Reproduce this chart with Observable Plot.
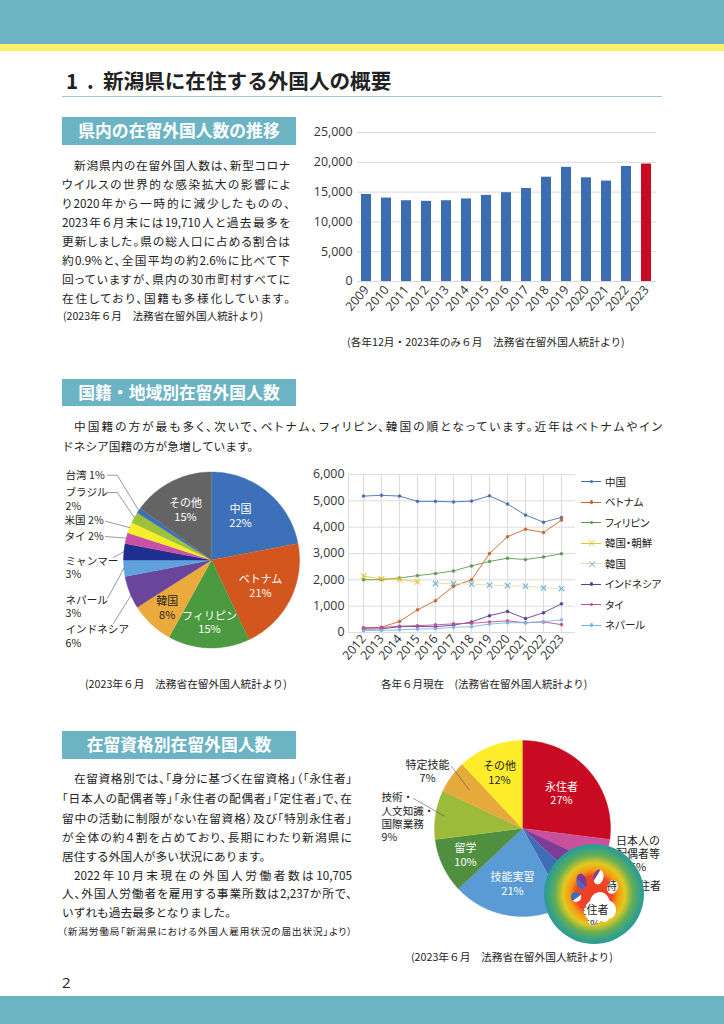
<!DOCTYPE html>
<html lang="ja"><head><meta charset="utf-8">
<script src="https://cdn.jsdelivr.net/npm/d3@7"></script>
<script src="https://cdn.jsdelivr.net/npm/@observablehq/plot@0.6"></script>
<style>
html,body{margin:0;padding:0;background:#fff}
#page{position:relative;width:724px;height:1024px;overflow:hidden;background:#fff;font-family:"Noto Sans CJK JP","Noto Sans",sans-serif;color:#222}
#page>div{position:absolute}
.ln{white-space:nowrap;text-align:justify;text-align-last:justify}
.tight{font-feature-settings:"palt"}
.plain{white-space:nowrap}
.hd{background:#6cb4c4;color:#fff;font-weight:700;text-align:center;font-size:16.8px;left:62px;width:234px;height:27.5px;line-height:27px}
svg{overflow:visible}
</style></head><body><div id="page"></div>
<script>
// ---------- data ----------
const barYears=["2009","2010","2011","2012","2013","2014","2015","2016","2017","2018","2019","2020","2021","2022","2023"];
const barValues=[14600,14000,13550,13450,13550,13850,14450,14900,15600,17500,19150,17400,16850,19300,19710];

const lineYears=["2012","2013","2014","2015","2016","2017","2018","2019","2020","2021","2022","2023"];
const china=[5180,5210,5180,4980,4980,4960,4990,5190,4880,4460,4190,4370];
const vietnam=[170,200,420,860,1210,1760,2000,3000,3640,3920,3800,4270];
const philippines=[2000,2010,2070,2160,2240,2340,2530,2700,2820,2770,2870,2990];
const koreaBoth=[2140,2040,2020,1920,null,null,null,null,null,null,null,null];
const korea=[null,null,null,null,1860,1860,1840,1800,1780,1760,1690,1670];
const indonesia=[130,140,220,230,220,280,400,640,800,530,750,1090];
const thailand=[180,190,240,260,290,330,350,400,440,370,400,300];
const nepal=[70,80,100,130,140,200,220,320,370,370,410,480];

const natNames=["中国","ベトナム","フィリピン","韓国","インドネシア","ネパール","ミャンマー","タイ","米国","ブラジル","台湾","その他"];
const natShares=[22,21,15,8,6,3,3,2,2,2,1,15];
const natColors=["#3c70b8","#d2561d","#4c9a40","#ebab3c","#6a459c","#5ea1dc","#1f2f8f","#c94fa8","#f7ee2a","#9cc23a","#3f6fb5","#646464"];

const visaNames=["永住者","日本人の配偶者等","定住者","特別永住者","技能実習","留学","技術・人文知識・国際業務","特定技能","その他"];
const visaShares=[27,5,5,5,21,10,9,6,12];
const visaColors=["#c80a22","#c9509b","#7d3c98","#3f6db5","#5b9bd5","#4f8f3f","#9dbb3a","#e5a93c","#fcec2a"];

const FONT='"Noto Sans CJK JP","Noto Sans",sans-serif';
const NUMFONT='"Open Sans","Noto Sans CJK JP",sans-serif';
const page=document.getElementById("page");
const comma=d3.format(",");

// ---------- page furniture ----------
function box(l,t,w,h,c){const d=document.createElement("div");d.style.cssText=`left:${l}px;top:${t}px;width:${w}px;height:${h}px;background:${c}`;page.append(d);return d}
box(0,0,724,44,"#6cb4c4");box(0,44,724,7,"#fdf06a");box(0,996,724,28,"#6cb4c4");box(62,96,600,1,"#9cc8dc");
function txt(s,l,cy,w,size,cls,extra=""){const d=document.createElement("div");d.className=cls;d.textContent=s;const lh=size*1.5;
 d.style.cssText=`left:${l}px;top:${cy-lh/2}px;${w?`width:${w}px;`:""}font-size:${size}px;line-height:${lh}px;${extra}`;page.append(d);return d}
txt("1",66,80,0,20.5,"plain","font-weight:700");txt(".",87,80,0,20.5,"plain","font-weight:700");
txt("新潟県に在住する外国人の概要",103,80,0,20.6,"plain","font-weight:700");
function hd(s,t){const d=document.createElement("div");d.className="hd";d.style.top=t+"px";d.textContent=s;page.append(d)}
hd("県内の在留外国人数の推移",117);hd("国籍・地域別在留外国人数",378.5);hd("在留資格別在留外国人数",731);

const body1=["新潟県内の在留外国人数は、新型コロナ","ウイルスの世界的な感染拡大の影響によ","り2020年から一時的に減少したものの、","2023年６月末には19,710人と過去最多を","更新しました。県の総人口に占める割合は","約0.9%と、全国平均の約2.6%に比べて下","回っていますが、県内の30市町村すべてに","在住しており、国籍も多様化しています。"];
const body1Y=[165,184,203,222,241,260,279,298];
body1.forEach((s,i)=>txt(s,i==0?74:62,body1Y[i],i==0?216:228,11.7,"ln tight"));
txt("(2023年６月　法務省在留外国人統計より)",63,316,0,10.6,"plain");

const body2=["中国籍の方が最も多く、次いで、ベトナム、フィリピン、韓国の順となっています。近年はベトナムやイン"];
txt(body2[0],74,426,588,11.7,"ln tight");
txt("ドネシア国籍の方が急増しています。",62,446,0,11.7,"plain");

const body3=["在留資格別では、「身分に基づく在留資格」（「永住者」","「日本人の配偶者等」「永住者の配偶者」「定住者」で、在","留中の活動に制限がない在留資格）及び「特別永住者」","が全体の約４割を占めており、長期にわたり新潟県に"];
const body3Y=[778,798,818,837];
body3.forEach((s,i)=>txt(s,i==0?74:62,body3Y[i],i==0?278:290,11.7,"ln tight"));
txt("居住する外国人が多い状況にあります。",62,856,0,11.7,"plain");
txt("2022年10月末現在の外国人労働者数は10,705",74,874.5,278,11.7,"ln tight");
txt("人、外国人労働者を雇用する事業所数は2,237か所で、",62,893,290,11.7,"ln tight");
txt("いずれも過去最多となりました。",62,912,0,11.7,"plain");
txt("（新潟労働局「新潟県における外国人雇用状況の届出状況」より）",62,931,290,9.6,"ln tight");
txt("2",62,982,0,15,"plain","font-family:"+NUMFONT);

txt("(各年12月・2023年のみ６月　法務省在留外国人統計より)",347,342,0,10.7,"plain");
txt("(2023年６月　法務省在留外国人統計より)",85,684,0,10.7,"plain");
txt("各年６月現在　(法務省在留外国人統計より)",381,684,0,10.5,"plain");
txt("(2023年６月　法務省在留外国人統計より)",411,957,0,10.7,"plain");

function put(svg,l,t){svg.style.position="absolute";svg.style.left=l+"px";svg.style.top=t+"px";svg.style.maxWidth="none";svg.style.background="transparent";page.append(svg)}

// ---------- bar chart ----------
const barRows=barYears.map((year,i)=>({year,value:barValues[i],kind:year==="2023"?"latest":"past"}));
put(Plot.plot({width:370,height:240,marginLeft:57,marginRight:14,marginTop:17,marginBottom:74,
 style:{fontFamily:NUMFONT,fontSize:"12.4px",color:"#333",background:"transparent"},
 x:{domain:barYears,paddingInner:0.49,paddingOuter:0.1,label:null},
 y:{domain:[0,25000],label:null},
 color:{domain:["past","latest"],range:["#3c6db3","#c80a22"]},
 marks:[
  Plot.gridY([0,5000,10000,15000,20000,25000],{stroke:"#d9d9d9",strokeOpacity:1}),
  Plot.barY(barRows,{x:"year",y:"value",fill:"kind"}),
  Plot.axisY({ticks:[0,5000,10000,15000,20000,25000],tickFormat:comma,tickSize:0,tickPadding:5,label:null,fontSize:12.4}),
  Plot.axisX({tickRotate:-50,tickSize:0,tickPadding:6,label:null,fontSize:12.4})
 ]}),300,115);

// ---------- line chart ----------
const seriesList=[["中国",china,"#4472b0"],["ベトナム",vietnam,"#c8642e"],["フィリピン",philippines,"#5f9a4f"],["韓国・朝鮮",koreaBoth,"#e6c43a"],["韓国",korea,"#e9dfa6"],["インドネシア",indonesia,"#5b3f95"],["タイ",thailand,"#c0508f"],["ネパール",nepal,"#7db6e3"]];
const markerColor={"韓国":"#6fb2d8"};
const long=seriesList.flatMap(([name,vals])=>vals.map((v,i)=>({name,year:lineYears[i],v})).filter(d=>d.v!==null));
const seriesNames=seriesList.map(s=>s[0]),seriesColors=seriesList.map(s=>s[2]);
const crossNames=["韓国・朝鮮","韓国"];
const crosses=long.filter(d=>crossNames.includes(d.name)),round=long.filter(d=>!crossNames.includes(d.name));
put(Plot.plot({width:270,height:200,marginLeft:38,marginRight:5,marginTop:14,marginBottom:28,
 style:{fontFamily:NUMFONT,fontSize:"12.4px",color:"#333",background:"transparent"},
 x:{type:"point",domain:lineYears,padding:0.5,label:null},
 y:{domain:[0,6000],label:null},
 color:{domain:seriesNames,range:seriesColors},
 marks:[
  Plot.gridX(lineYears,{stroke:"#dcdcdc",strokeOpacity:1}),
  Plot.gridY([0,1000,2000,3000,4000,5000,6000],{stroke:"#dcdcdc",strokeOpacity:1}),
  Plot.frame({anchor:"left",stroke:"#dcdcdc"}),
  Plot.line(long,{x:"year",y:"v",z:"name",stroke:"name",strokeWidth:0.9}),
  Plot.dot(round,{x:"year",y:"v",r:1.5,fill:"name",stroke:"name",strokeWidth:0.5}),
  Plot.dot(crosses,{x:"year",y:"v",r:2.6,symbol:"times",stroke:d=>markerColor[d.name]||"#e6c43a",strokeWidth:1.1}),
  Plot.axisY({ticks:[0,1000,2000,3000,4000,5000,6000],tickFormat:comma,tickSize:0,tickPadding:4,label:null,fontSize:12.4}),
  Plot.axisX({tickRotate:-50,tickSize:0,tickPadding:4,label:null,fontSize:12.4})
 ]}),310,460);

// legend for the line chart
const legendRows=[481.5,502,522.5,543,563.5,584,604.5,625];
seriesList.forEach(([name,_,c],i)=>{
 const y=legendRows[i];
 const l=document.createElement("div");l.style.cssText=`left:581px;top:${y-.4}px;width:20px;height:0;border-top:.9px solid ${c}`;page.append(l);
 const mark=document.createElement("div");const mc=markerColor[name]||c;
 mark.textContent=crossNames.includes(name)?"×":"";
 mark.style.cssText=crossNames.includes(name)?`left:587px;top:${y-7}px;width:8px;text-align:center;font-size:10px;line-height:14px;color:${mc}`:`left:589.5px;top:${y-2}px;width:3.5px;height:3.5px;border-radius:50%;background:${c}`;
 page.append(mark);
 txt(name,605,y,0,10.5,"plain tight");
});

// ---------- pies: slices are polygons built from the shares and drawn on pixel scales ----------
function slices(names,shares,cx,cy,r){
 const total=d3.sum(shares);let acc=0;const pts=[],mids={};
 names.forEach((name,i)=>{
  const a0=acc/total*2*Math.PI;acc+=shares[i];const a1=acc/total*2*Math.PI;
  mids[name]=(a0+a1)/2;
  pts.push({name,px:cx,py:cy});
  const n=Math.max(2,Math.ceil((a1-a0)/0.02));
  for(let k=0;k<=n;k++){const a=a0+(a1-a0)*k/n;pts.push({name,px:cx+r*Math.sin(a),py:cy-r*Math.cos(a)})}
 });
 const rim=(name,f=1)=>({px:cx+r*f*Math.sin(mids[name]),py:cy-r*f*Math.cos(mids[name])});
 return {pts,rim};
}
function leaders(list,rim){return list.flatMap(([name,anchors,f],id)=>[...anchors.map(([px,py])=>({id,px,py})),{id,...rim(name,f)}])}
function piePlot(L,T,W,H,names,colors,pts,leaderRows,labels){
 const rows=labels.flatMap(d=>{const ls=d.t.split("\n");return ls.map((t,i)=>({...d,t,py:d.py+(i-(ls.length-1)/2)*13.3}))});
 const mk=(list,fill,anchor,size)=>Plot.text(list,{x:"px",y:"py",text:"t",fill,textAnchor:anchor,fontSize:size});
 return Plot.plot({width:W,height:H,margin:0,
  style:{fontFamily:FONT,background:"transparent"},
  x:{domain:[L,L+W],range:[0,W],axis:null},y:{domain:[T,T+H],range:[0,H],axis:null},
  color:{domain:names,range:colors},
  marks:[
   Plot.line(pts,{x:"px",y:"py",z:"name",fill:"name",stroke:"name",strokeWidth:.4}),
   Plot.line(leaderRows,{x:"px",y:"py",z:"id",stroke:"#555",strokeWidth:.6}),
   mk(rows.filter(d=>d.c),"#fff","middle",11),
   mk(rows.filter(d=>!d.c&&!d.a),"#222","middle",11),
   mk(rows.filter(d=>d.a),"#222","start",10.6)
  ]});
}

const natPie=slices(natNames,natShares,211,559.5,88);
const natLeaders=[
 ["台湾",[[107,474.7],[116.7,474.7]],1],["ブラジル",[[107,492],[116.7,492]],1],["米国",[[105,520.7]],1],
 ["タイ",[[105,536]],1],["ミャンマー",[[113,557]],1],["ネパール",[[107,598]],1],["インドネシア",[[113,623]],.95]];
const natLabels=[
 {t:"中国\n22%",px:240,py:516,c:1},{t:"その他\n15%",px:185,py:510,c:1},{t:"ベトナム\n21%",px:260,py:586,c:1},
 {t:"フィリピン\n15%",px:209,py:622.5,c:1},{t:"韓国\n8%",px:166.7,py:608},
 {t:"台湾 1%",px:65,py:475,a:1},{t:"ブラジル\n2%",px:65,py:499,a:1},{t:"米国 2%",px:64,py:520.5,a:1},{t:"タイ 2%",px:64,py:536,a:1},
 {t:"ミャンマー\n3%",px:65,py:567.5,a:1},{t:"ネパール\n3%",px:65,py:606.5,a:1},{t:"インドネシア\n6%",px:65,py:636,a:1}];
put(piePlot(50,460,255,200,natNames,natColors,natPie.pts,leaders(natLeaders,natPie.rim),natLabels),50,460);

const visaPie=slices(visaNames,visaShares,522,828,88);
const visaLeaders=[["特定技能",[[451,766]],.75],["技術・人文知識・国際業務",[[413,798]],.9]];
const visaLabels=[
 {t:"永住者\n27%",px:561,py:793.5,c:1},{t:"その他\n12%",px:499,py:773},{t:"特定技能\n7%",px:427,py:771.5},
 {t:"技術・\n人文知識・\n国際業務\n9%",px:381,py:817.5,a:1},{t:"留学\n10%",px:465,py:855,c:1},{t:"技能実習\n21%",px:512,py:884,c:1},
 {t:"日本人の\n配偶者等\n5%",px:637.5,py:854},{t:"特別永住者\n5%",px:633,py:893},{t:"定住者\n5%",px:591.5,py:917}];
put(piePlot(370,730,300,225,visaNames,visaColors,visaPie.pts,leaders(visaLeaders,visaPie.rim),visaLabels),370,730);

// ---------- paw badge overlaid on the third chart ----------
const badge=document.createElement("div");badge.style.cssText="left:540px;top:840px;width:108px;height:108px";
badge.innerHTML=`<svg width="108" height="108" viewBox="0 0 108 108" xmlns="http://www.w3.org/2000/svg">
<defs><radialGradient id="bg"><stop offset="0" stop-color="#ee3c24"/><stop offset=".36" stop-color="#ef4526"/><stop offset=".48" stop-color="#f59a12"/><stop offset=".62" stop-color="#e3c822"/><stop offset=".78" stop-color="#63ae55"/><stop offset=".95" stop-color="#2f9e90"/><stop offset="1" stop-color="#2f9e90"/></radialGradient>
<mask id="m"><rect width="108" height="108" fill="#fff"/>
<ellipse cx="41.5" cy="41.5" rx="5" ry="8" transform="rotate(-12 41.5 41.5)" fill="#000"/>
<ellipse cx="58.5" cy="37" rx="5" ry="7.5" transform="rotate(12 58.5 37)" fill="#000"/>
<ellipse cx="72.5" cy="47" rx="5.2" ry="7" transform="rotate(20 72.5 47)" fill="#000"/>
<ellipse cx="36" cy="57" rx="5.2" ry="5" fill="#000"/>
<path d="M60 52c5 0 8 4 10 9 4 1 6 5 6 9 0 5-3 8-7 9-3 4-6 3-8 2-4 3-6 5-9 4-4 0-5-4-4-6-3-3-5-6-4-10 1-4 4-6 6-8 1-5 5-9 10-9z" fill="#000"/>
</mask></defs>
<circle cx="54" cy="54" r="50" fill="url(#bg)" mask="url(#m)"/></svg>`;
page.append(badge);
</script></body></html>
